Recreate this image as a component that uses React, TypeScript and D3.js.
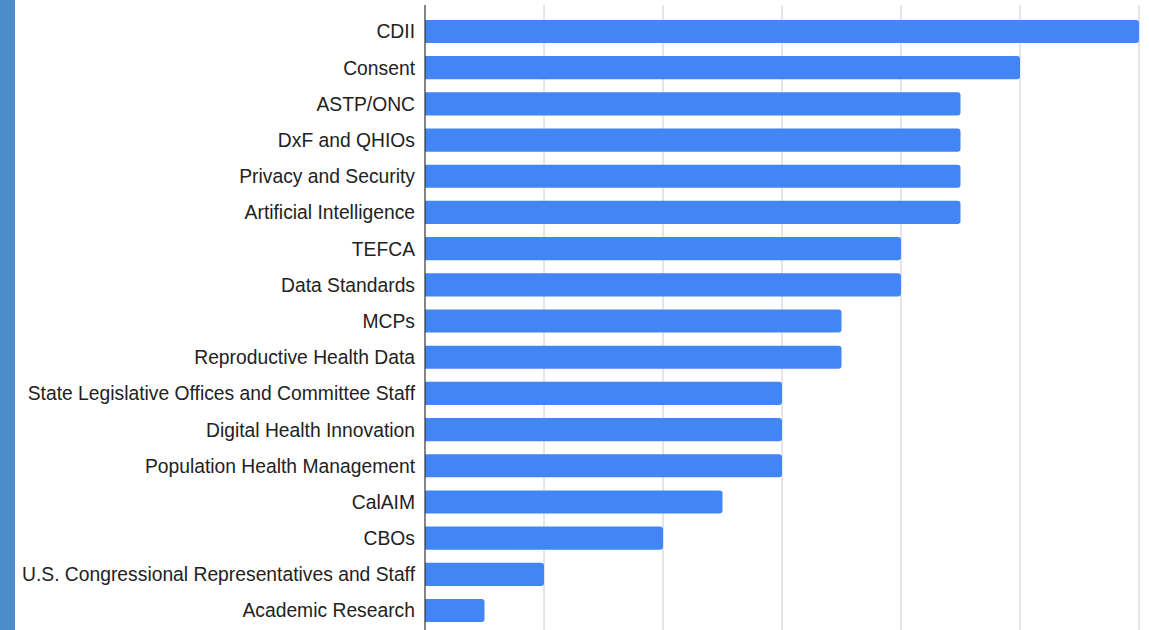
import React from "react";
import * as d3 from "d3";

const categories = [
  "CDII",
  "Consent",
  "ASTP/ONC",
  "DxF and QHIOs",
  "Privacy and Security",
  "Artificial Intelligence",
  "TEFCA",
  "Data Standards",
  "MCPs",
  "Reproductive Health Data",
  "State Legislative Offices and Committee Staff",
  "Digital Health Innovation",
  "Population Health Management",
  "CalAIM",
  "CBOs",
  "U.S. Congressional Representatives and Staff",
  "Academic Research",
];
const values = [12, 10, 9, 9, 9, 9, 8, 8, 7, 7, 6, 6, 6, 5, 4, 2, 1];
const xTicks = [0, 2, 4, 6, 8, 10, 12];

const W = 1149;
const H = 630;
const left = 425;
const right = 1139;
const x = d3.scaleLinear().domain([0, 12]).range([left, right]);
const step = 36.19;
const y = d3
  .scaleBand<string>()
  .domain(categories)
  .range([31.5 - step / 2, 31.5 - step / 2 + step * categories.length])
  .paddingInner(0.36)
  .paddingOuter(0.18);

function barPath(x0: number, x1: number, y0: number, h: number, r: number) {
  const rr = Math.min(r, (x1 - x0) / 2, h / 2);
  return `M${x0},${y0}H${x1 - rr}Q${x1},${y0} ${x1},${y0 + rr}V${y0 + h - rr}Q${x1},${y0 + h} ${x1 - rr},${y0 + h}H${x0}Z`;
}

export default function App() {
  return (
    <svg
      width={W}
      height={H}
      style={{ position: "absolute", left: 0, top: 0, background: "#fff" }}
      fontFamily="'Liberation Sans', Arial, sans-serif"
    >
      <rect x={0} y={0} width={W} height={H} fill="#fff" />
      <rect x={0} y={0} width={15} height={H} fill="#4a8ccc" />
      {xTicks.slice(1).map((t) => (
        <line key={t} x1={x(t)} x2={x(t)} y1={5} y2={H} stroke="#cccccc" strokeWidth={1} />
      ))}
      {categories.map((c, i) => {
        const yy = y(c)!;
        const h = y.bandwidth();
        return (
          <g key={c}>
            <path d={barPath(x(0), x(values[i]), yy, h, 3)} fill="#4285f4" />
            <text
              x={415}
              y={yy + h / 2}
              dy="0.36em"
              textAnchor="end"
              fontSize={19.3}
              fill="#222"
            >
              {c}
            </text>
          </g>
        );
      })}
      <line x1={left} x2={left} y1={5} y2={H} stroke="#333" strokeWidth={1.2} />
    </svg>
  );
}
